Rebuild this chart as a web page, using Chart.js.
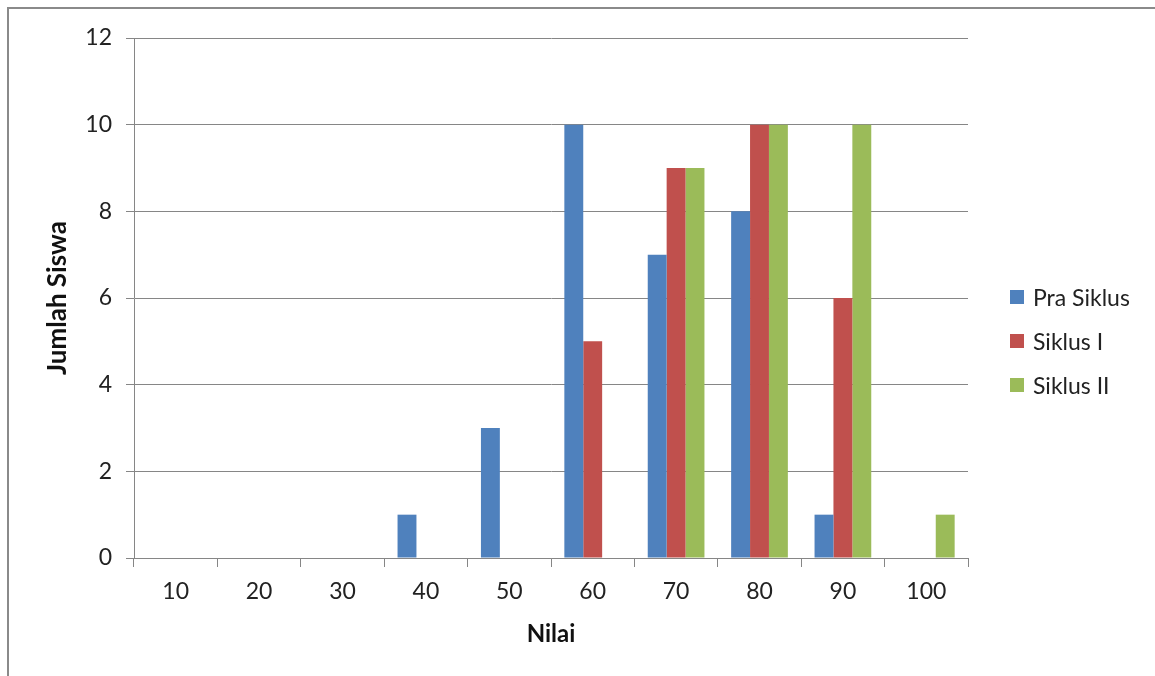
<!DOCTYPE html>
<html>
<head>
<meta charset="utf-8">
<script src="https://cdn.jsdelivr.net/npm/chart.js@4"></script>
<style>
  html, body { margin: 0; padding: 0; background: #fff; }
  #wrap { position: relative; width: 1155px; height: 676px; overflow: hidden; }
  #frame { position: absolute; left: 7px; top: 7px; width: 1200px; height: 700px;
           border-left: 2px solid #8a8a8a; border-top: 2px solid #8a8a8a; }
  canvas { position: absolute; left: 0; top: 0; }
  #legend { position: absolute; left: 1010px; top: 275px; font-family: Lato, "Open Sans", sans-serif;
            font-size: 23px; color: #222; }
  .item { height: 44px; display: flex; align-items: center; margin-top: 0; }
  .box { width: 14px; height: 14px; margin-right: 9px; }
</style>
</head>
<body>
<div id="wrap">
  <div id="frame"></div>
  <canvas id="chart" width="1155" height="676"></canvas>
  <div id="legend"></div>
</div>
<script>
// data
const nilai = ['10', '20', '30', '40', '50', '60', '70', '80', '90', '100'];
const praSiklus = [0, 0, 0, 1, 3, 10, 7, 8, 1, 0];
const siklus1 = [0, 0, 0, 0, 0, 5, 9, 10, 6, 0];
const siklus2 = [0, 0, 0, 0, 0, 0, 9, 10, 10, 1];
const seriesNames = ['Pra Siklus', 'Siklus I', 'Siklus II'];
const seriesColors = ['#4f81bd', '#c0504d', '#9bbb59'];

const fontFamily = 'Lato, "Open Sans", sans-serif';
const gridColor = '#868686';

const ctx = document.getElementById('chart').getContext('2d');
const chart = new Chart(ctx, {
  type: 'bar',
  data: {
    labels: nilai,
    datasets: [praSiklus, siklus1, siklus2].map((d, i) => ({
      label: seriesNames[i],
      data: d,
      backgroundColor: seriesColors[i],
      borderWidth: 0,
      categoryPercentage: 0.68,
      barPercentage: 1
    }))
  },
  options: {
    responsive: false,
    animation: false,
    layout: { padding: { left: 0, top: 38, right: 187, bottom: 0 } },
    plugins: {
      legend: { display: false },
      tooltip: { enabled: false }
    },
    scales: {
      x: {
        grid: {
          offset: true,
          drawOnChartArea: false,
          drawTicks: true,
          tickLength: 9,
          color: gridColor
        },
        border: { color: gridColor },
        ticks: { color: '#222', font: { family: fontFamily, size: 23 }, padding: 11, maxRotation: 0 },
        title: {
          display: true,
          text: 'Nilai',
          color: '#111',
          font: { family: fontFamily, size: 24, weight: 'bold' },
          padding: { bottom: 27 }
        },
        afterFit: scale => { scale.height = 676 - 558; }
      },
      y: {
        min: 0,
        max: 12,
        ticks: { stepSize: 2, color: '#222', font: { family: fontFamily, size: 23 }, padding: 14 },
        grid: { color: gridColor, tickLength: 8 },
        border: { color: gridColor },
        title: {
          display: true,
          text: 'Jumlah Siswa',
          color: '#111',
          font: { family: fontFamily, size: 26, weight: 'bold' },
          padding: { top: 42 }
        },
        afterFit: scale => { scale.width = 134; }
      }
    }
  }
});

// legend drawn as html on the right
const legend = document.getElementById('legend');
seriesNames.forEach((name, i) => {
  const row = document.createElement('div');
  row.className = 'item';
  row.innerHTML = '<span class="box" style="background:' + seriesColors[i] + '"></span><span>' + name + '</span>';
  legend.appendChild(row);
});
</script>
</body>
</html>
